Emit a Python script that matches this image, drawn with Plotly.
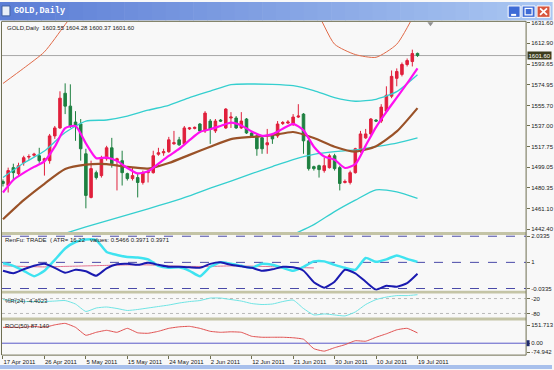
import plotly.graph_objects as go

W, H = 554, 370

# ---------------- data ----------------
bar_index = list(range(81))
open_ = [1486.1, 1482.4, 1498.8, 1493.3, 1503.3, 1508.5, 1510.2, 1509.7, 1505.2, 1505.2,
         1527.9, 1535.2, 1567.0, 1555.2, 1540.6, 1538.8, 1511.5, 1471.5, 1494.2, 1491.5,
         1507.0, 1517.0, 1505.2, 1505.2, 1493.3, 1488.8, 1489.7, 1485.2, 1494.2, 1494.2,
         1511.1, 1512.4, 1513.4, 1520.7, 1524.3, 1520.6, 1534.3, 1534.8, 1538.8, 1532.5,
         1541.5, 1532.5, 1542.4, 1535.2, 1544.3, 1544.3, 1535.2, 1543.4, 1530.6, 1527.9,
         1526.1, 1519.7, 1527.9, 1527.9, 1539.3, 1539.7, 1538.8, 1545.2, 1547.9, 1523.4,
         1499.7, 1500.6, 1496.1, 1498.8, 1509.7, 1498.8, 1485.2, 1485.2, 1494.2, 1514.3,
         1526.1, 1529.7, 1542.4, 1541.5, 1550.6, 1564.3, 1580.7, 1584.3, 1593.4, 1596.1,
         1603.55]
high = [1487.9, 1498.8, 1502.4, 1503.3, 1509.7, 1511.0, 1512.4, 1517.0, 1507.9, 1529.7,
        1537.0, 1568.8, 1576.1, 1575.2, 1550.6, 1543.4, 1516.1, 1505.2, 1496.1, 1509.7,
        1518.8, 1526.1, 1507.9, 1514.3, 1494.2, 1498.8, 1493.3, 1496.1, 1497.9, 1514.3,
        1517.0, 1516.1, 1527.0, 1532.5, 1527.0, 1537.0, 1536.1, 1536.5, 1539.7, 1550.6,
        1543.4, 1543.4, 1543.4, 1553.4, 1549.7, 1546.1, 1549.7, 1544.3, 1531.5, 1530.6,
        1527.9, 1534.3, 1530.6, 1541.5, 1541.5, 1542.4, 1547.9, 1557.0, 1548.8, 1525.2,
        1500.6, 1501.5, 1507.9, 1511.5, 1511.5, 1500.6, 1487.9, 1496.1, 1517.0, 1532.5,
        1534.3, 1544.3, 1543.4, 1557.0, 1573.4, 1587.9, 1589.8, 1595.2, 1598.9, 1607.0,
        1604.28]
low = [1481.5, 1476.0, 1486.9, 1491.5, 1500.6, 1506.0, 1508.8, 1503.3, 1491.5, 1502.4,
       1525.2, 1534.3, 1547.9, 1535.2, 1523.4, 1505.2, 1461.5, 1470.6, 1487.9, 1489.7,
       1505.2, 1498.8, 1477.9, 1482.4, 1487.0, 1487.0, 1471.5, 1483.3, 1485.2, 1493.3,
       1509.7, 1509.7, 1512.4, 1519.7, 1518.8, 1519.7, 1533.4, 1533.9, 1530.6, 1530.6,
       1520.6, 1530.6, 1540.6, 1534.3, 1535.2, 1534.3, 1534.3, 1529.7, 1527.0, 1509.7,
       1511.5, 1511.5, 1520.6, 1526.1, 1537.9, 1538.8, 1537.0, 1544.3, 1511.5, 1496.1,
       1496.1, 1489.7, 1494.2, 1497.9, 1496.1, 1477.9, 1484.3, 1483.4, 1493.3, 1512.4,
       1525.2, 1527.9, 1540.6, 1539.7, 1548.8, 1562.5, 1573.4, 1582.5, 1591.6, 1591.6,
       1600.37]
close = [1484.3, 1496.1, 1494.2, 1500.6, 1507.9, 1509.0, 1511.1, 1505.2, 1507.0, 1527.9,
         1535.2, 1562.5, 1555.2, 1537.0, 1537.9, 1516.1, 1473.3, 1497.9, 1489.7, 1507.9,
         1517.0, 1502.4, 1507.0, 1494.2, 1488.8, 1491.5, 1485.2, 1494.2, 1495.2, 1509.7,
         1512.4, 1513.4, 1524.3, 1521.6, 1519.7, 1535.2, 1535.2, 1535.7, 1532.5, 1548.8,
         1534.3, 1541.5, 1541.5, 1552.5, 1545.2, 1535.2, 1541.5, 1530.6, 1527.9, 1516.1,
         1516.1, 1521.6, 1525.2, 1538.8, 1540.2, 1540.6, 1545.2, 1546.1, 1523.4, 1497.9,
         1497.9, 1497.0, 1500.6, 1509.7, 1497.9, 1484.3, 1486.1, 1494.2, 1516.1, 1529.7,
         1529.7, 1543.4, 1541.5, 1554.3, 1565.2, 1582.5, 1587.0, 1593.4, 1597.0, 1603.4,
         1601.60]

date_ticks = [0, 8, 16, 24, 32, 40, 48, 56, 64, 72, 80]
date_labels = ["17 Apr 2011", "26 Apr 2011", "5 May 2011", "15 May 2011", "24 May 2011",
               "2 Jun 2011", "12 Jun 2011", "21 Jun 2011", "30 Jun 2011", "10 Jul 2011",
               "19 Jul 2011"]

price_ticks = [1631.60, 1612.90, 1593.65, 1574.95, 1555.70, 1537.00, 1517.75,
               1499.05, 1480.35, 1461.10, 1442.40]
last_price = 1601.60

# moving averages / bands (main pane)
x_step2 = list(range(0, 81, 2))
x_step4 = list(range(0, 81, 4))
ma_fast = [1476, 1487.5, 1494, 1499.5, 1504.5, 1518, 1535, 1537, 1521, 1507.5,
           1508, 1505, 1498.5, 1493.5, 1495.5, 1502.5, 1509.5, 1516, 1524, 1531.5,
           1534, 1537, 1540, 1537.5, 1532, 1528, 1529.5, 1534.5, 1539, 1533,
           1518, 1509, 1506, 1498.5, 1502, 1519, 1536, 1550, 1563, 1576, 1589.8]
ma_slow = [1451.5, 1469, 1484, 1497.5, 1501.5, 1502, 1499.5, 1498, 1503, 1510.5,
           1518, 1525, 1527, 1528.5, 1531.5, 1526, 1518, 1513.5, 1518.5, 1532, 1553.4]
band_upper = [1489.7, 1503, 1514, 1531, 1541.5, 1542.5, 1546, 1551.5, 1556, 1563,
              1569, 1575, 1575.5, 1575.2, 1574, 1569.5, 1563, 1559.7, 1561.5, 1568.5, 1584]
band_middle = [1418, 1425, 1432, 1438.5, 1444.5, 1450, 1455.5, 1461, 1466.8, 1473,
               1480, 1486.5, 1493.3, 1499.8, 1506.2, 1511, 1513.5, 1515, 1518, 1521.2, 1526]
x_lower = list(range(40, 81, 4))
band_lower = [1405, 1413, 1421, 1429, 1437.5, 1446.5, 1458.5, 1469, 1478.5, 1476.5, 1470.6]
envelope_upper = [1576, 1590, 1605, 1630, 1655, 1670, 1680, 1685, 1688, 1690,
                  1690, 1688, 1680, 1668, 1652, 1645, 1612, 1602.5, 1600, 1612, 1645]

# RenFu pane
renfu_fast = [0.961, 0.863, 0.667, 0.451, 0.667, 1.098, 1.549, 1.804, 1.902, 1.882,
              1.412, 1.294, 1.216, 1.196, 1.118, 0.863, 0.784, 0.804, 0.667, 0.451,
              0.824, 1.0, 0.941, 0.863, 0.784, 0.941, 0.902, 0.784, 0.667, 0.824,
              1.039, 1.039, 0.902, 0.784, 0.706, 1.176, 1.020, 1.118, 1.275, 1.137, 1.020]
renfu_slow = [0.667, 0.569, 0.725, 0.863, 0.941, 0.784, 0.588, 0.706, 0.647, 0.471,
              0.765, 0.922, 0.941, 0.902, 0.980, 0.902, 0.824, 0.824, 0.804, 0.784,
              0.941, 1.0, 0.902, 0.843, 0.784, 0.667, 0.725, 0.824, 0.804, 0.667,
              0.216, 0.0, 0.235, 0.706, 0.569, 0.235, -0.078, 0.078, 0.039, 0.176, 0.5466]
x_signal = list(range(0, 61, 4))
renfu_signal = [0.86, 0.84, 0.82, 0.84, 0.86, 0.88, 0.9, 0.9, 0.86, 0.84, 0.84, 0.86,
                0.85, 0.83, 0.80, 0.78]
renfu_levels = [2.0335, 1.0, -0.0335]
renfu_labels = ["2.0335", "1", "-0.0335"]

# Williams %R pane
wpr = [-24, -28, -32, -32, -32, -30, -28, -42, -72, -58,
       -54, -60, -68, -64, -58, -52, -46, -38, -32, -28,
       -18, -18, -24, -30, -40, -44, -42, -32, -26, -60,
       -86, -82, -86, -90, -74, -44, -24, -14, -8, -8, -4.4023]
wpr_levels = [-20, -80]

# ROC pane
roc = [134.4, 134.4, 134.4, 142.8, 134.4, 155.4, 168, 134.4, 67.2, 92.4,
       109.2, 92.4, 126, 88.2, 84, 100.8, 126, 138.6, 142.8, 126,
       100.8, 92.4, 96.6, 92.4, 58.8, 50.4, 50.4, 50.4, 46.2, 33.6,
       -46.2, -67.2, -37.8, -12.6, 21, 16.8, 50.4, 79.8, 113.4, 126, 87.14]
roc_ticks = [151.713, 0.0, -74.942]
roc_labels = ["151.713", "0.00", "-74.942"]

# ---------------- layout helpers ----------------
def py(px):
    return 1 - px / H

def px_x(px):
    return px / W

XDOM = [px_x(2), px_x(528)]
XRANGE = [-0.19, 100.96]
FONT = "Liberation Sans"
TXT = "#202020"
OLIVE = "#6E6E50"

fig = go.Figure()

fig.add_trace(go.Candlestick(
    x=bar_index, open=open_, high=high, low=low, close=close,
    increasing=dict(line=dict(color="#E0203C", width=1), fillcolor="#E0203C"),
    decreasing=dict(line=dict(color="#1E8040", width=1), fillcolor="#1E8040"),
    whiskerwidth=0, xaxis="x", yaxis="y", showlegend=False, hoverinfo="skip"))

def line(x, y, color, width, xa="x", ya="y", smooth=0.6):
    fig.add_trace(go.Scatter(x=x, y=y, mode="lines", xaxis=xa, yaxis=ya,
                             line=dict(color=color, width=width, shape="spline", smoothing=smooth),
                             showlegend=False, hoverinfo="skip"))

line(x_step4, envelope_upper, "#E06A48", 1)
line(x_step4, band_upper, "#35CFCF", 1.3)
line(x_step4, band_middle, "#35CFCF", 1.3)
line(x_lower, band_lower, "#35CFCF", 1.3)
line(x_step4, ma_slow, "#9A5228", 2.2)
line(x_step2, ma_fast, "#FF10F0", 2.2)

line(x_signal, renfu_signal, "#E07090", 1, "x2", "y2")
line(x_step2, renfu_fast, "#3FE3F0", 2.5, "x2", "y2", 0.5)
line(x_step2, renfu_slow, "#1A1AB0", 2, "x2", "y2", 0.5)

line(x_step2, wpr, "#70E4E4", 1, "x3", "y3", 0.5)
line(x_step2, roc, "#E05050", 1, "x4", "y4", 0.4)

def xaxis(anchor, **kw):
    d = dict(domain=XDOM, range=XRANGE, anchor=anchor, showgrid=False, zeroline=False,
             showticklabels=False, ticks="", showline=False, fixedrange=True)
    d.update(kw)
    return d

def yaxis(anchor, dom, rng, tv, tt):
    return dict(domain=[py(dom[1]), py(dom[0])], range=rng, anchor=anchor, side="right",
                showgrid=False, zeroline=False, showline=False, tickvals=tv, ticktext=tt,
                ticks="outside", ticklen=3, tickcolor=OLIVE, tickwidth=1,
                tickfont=dict(family=FONT, size=6, color=TXT), fixedrange=True)

fig.update_layout(
    width=W, height=H, margin=dict(l=0, r=0, t=0, b=0),
    paper_bgcolor="#F8F8F8", plot_bgcolor="#F8F8F8",
    xaxis=xaxis("y", rangeslider=dict(visible=False)),
    xaxis2=xaxis("y2", matches="x"),
    xaxis3=xaxis("y3", matches="x"),
    xaxis4=xaxis("y4", matches="x", tickvals=date_ticks, ticktext=date_labels,
                 showticklabels=True, ticks="outside", ticklen=3, tickcolor=OLIVE,
                 ticklabelposition="outside right", tickangle=0, ticklabelstandoff=1,
                 tickfont=dict(family=FONT, size=6, color=TXT)),
    yaxis=yaxis("x", (20, 232), [1439.67, 1632.51], price_ticks,
                ["%.2f" % v for v in price_ticks]),
    yaxis2=yaxis("x2", (235, 291), [-0.118, 2.078], renfu_levels, renfu_labels),
    yaxis3=yaxis("x3", (294, 318), [-96, 0], wpr_levels, ["-20", "-80"]),
    yaxis4=yaxis("x4", (321, 356), [-100.8, 193.2], roc_ticks, roc_labels),
)

shapes = []
def rect_px(x0, y0, x1, y1, fill, lw=0, lc=None):
    shapes.append(dict(type="rect", xref="paper", yref="paper", x0=px_x(x0), x1=px_x(x1),
                       y0=py(y1), y1=py(y0), fillcolor=fill, line=dict(width=lw, color=lc or fill),
                       layer="above"))

def seg_px(x0, y0, x1, y1, color, w=1, dash="solid"):
    shapes.append(dict(type="line", xref="paper", yref="paper", x0=px_x(x0), x1=px_x(x1),
                       y0=py(y0), y1=py(y1), line=dict(color=color, width=w, dash=dash),
                       layer="above"))

# title bar gradient
c0 = (92, 126, 214)
c1 = (170, 199, 242)
n = 40
for k in range(n):
    t = k / (n - 1)
    col = "rgb(%d,%d,%d)" % tuple(int(c0[j] + (c1[j] - c0[j]) * t) for j in range(3))
    rect_px(W * k / n, 0, W * (k + 1) / n + 0.6, 18.5, col)
# window icon
rect_px(2, 4, 10, 14, "#E8EEF8", 1, "#4060A0")
# window buttons
rect_px(510, 4, 522, 15.5, "#3E6BD6", 1, "#FFFFFF")
rect_px(524, 4, 537, 15.5, "#3E6BD6", 1, "#FFFFFF")
rect_px(539, 4, 552, 15.5, "#D8553C", 1, "#FFFFFF")
seg_px(513, 13, 518, 13, "#FFFFFF", 2)
rect_px(527, 6.5, 534, 13, "rgba(0,0,0,0)", 1.2, "#FFFFFF")
seg_px(542, 6.5, 549, 13, "#FFFFFF", 1.8)
seg_px(542, 13, 549, 6.5, "#FFFFFF", 1.8)

# bottom window strip
rect_px(0, 366, W, H, "#A8C0EC")

# pane separators
for a, b in [(232, 235), (291, 294), (318, 321)]:
    rect_px(2, a, 528, b, "#C4C4A6")

# frame
seg_px(2, 19.5, 528, 19.5, OLIVE, 1)
seg_px(1.5, 19.5, 1.5, 356, OLIVE, 1)
seg_px(528, 19.5, 528, 356, OLIVE, 1)
seg_px(2, 356, 528, 356, OLIVE, 1)

# chart shift marker
shapes.append(dict(type="path", xref="paper", yref="paper",
                   path="M %f %f L %f %f L %f %f Z" % (px_x(429), py(20.5), px_x(435), py(20.5),
                                                       px_x(432), py(24.5)),
                   fillcolor="#909090", line=dict(width=0), layer="above"))

# current price line
shapes.append(dict(type="line", xref="x domain", yref="y", x0=0, x1=1, y0=last_price,
                   y1=last_price, line=dict(color="#A8A8A8", width=1), layer="below"))
# level lines
for v in renfu_levels:
    shapes.append(dict(type="line", xref="x2 domain", yref="y2", x0=0, x1=1, y0=v, y1=v,
                       line=dict(color="#4A4AA8", width=1, dash="dash"), layer="below"))
for v in wpr_levels:
    shapes.append(dict(type="line", xref="x3 domain", yref="y3", x0=0, x1=1, y0=v, y1=v,
                       line=dict(color="#B8B8B8", width=1, dash="dot"), layer="below"))
shapes.append(dict(type="line", xref="x4 domain", yref="y4", x0=0, x1=1, y0=0, y1=0,
                   line=dict(color="#5A5AC8", width=1), layer="below"))
# small level marker at ROC zero label
rect_px(528.5, 341, 531.5, 347, "#1E2A6E")

fig.update_layout(shapes=shapes)

ann = []
def text_px(x, y, s, size=6, color=TXT, family=FONT, **kw):
    ann.append(dict(xref="paper", yref="paper", x=px_x(x), y=py(y), text=s, showarrow=False,
                    xanchor="left", yanchor="middle", font=dict(family=family, size=size, color=color),
                    **kw))

text_px(12, 9.5, "<b>GOLD,Daily</b>", size=8.5, color="#FFFFFF", family="Liberation Mono")
text_px(5, 26, "GOLD,Daily  1603.55 1604.28 1600.37 1601.60")
text_px(3, 240, "RenFu: TRADE  ( ATR= 16.22   values: 0.5466 0.3971 0.3971")
text_px(3, 301, "%R(24) -4.4023")
text_px(3, 327, "ROC(50) 87.140")

ann.append(dict(xref="paper", yref="y", x=px_x(529), y=last_price, text="1601.60",
                showarrow=False, xanchor="left", yanchor="middle", bgcolor="#3C3C1C",
                borderpad=0.5, font=dict(family=FONT, size=6, color="#FFFFFF")))
fig.update_layout(annotations=ann)

fig.write_html("out.html")
